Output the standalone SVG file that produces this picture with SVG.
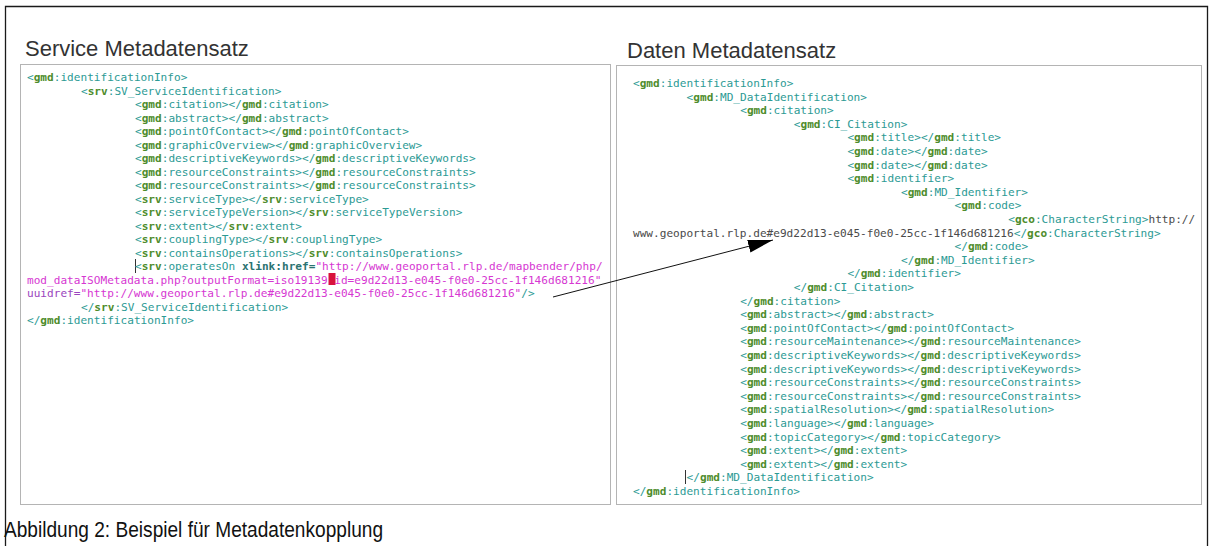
<svg xmlns="http://www.w3.org/2000/svg" width="1213" height="546" viewBox="0 0 1213 546">
<defs>
<style>
.frame{fill:none;stroke:#1a1a1a;stroke-width:1.3}
.panel{fill:#ffffff;stroke:#b4b4b4;stroke-width:1}
.title{font-family:"Liberation Sans",Arial,sans-serif;font-size:22px;fill:#333333}
.cap{font-family:"Liberation Sans",Arial,sans-serif;font-size:22.5px;fill:#111111}
.c{font-family:"DejaVu Sans Mono","Liberation Mono",monospace;font-size:11.1px;fill:#2c9a94}
.p{font-weight:bold;fill:#4e8c2c}
.a{font-weight:bold;fill:#2b7371}
.v{fill:#d637d2}
.u{fill:#9a45bd}
.t{fill:#4a4a4a}
.cur{stroke:#333333;stroke-width:1}
.conn{stroke:#111111;stroke-width:1;fill:none}
</style>
<marker id="arrow" markerUnits="userSpaceOnUse" markerWidth="26" markerHeight="14" refX="25" refY="6.5" orient="auto">
<path d="M0,0 L25,6.5 L0,13 z" fill="#000000"/>
</marker>
</defs>
<rect width="1213" height="546" fill="#ffffff"/>
<path class="frame" d="M5.5,560 V6.5 H1207.5 V560"/>

<g id="service-panel">
<text class="title" x="25" y="56">Service Metadatensatz</text>
<rect class="panel" x="20.5" y="64.5" width="590" height="440"/>
<rect x="328.5" y="273" width="7" height="12" fill="#d8123c"/>
<line class="cur" x1="135.5" y1="259" x2="135.5" y2="273"/>
<text class="c">
<tspan x="27" y="81">&lt;<tspan class="p">gmd</tspan>:identificationInfo&gt;</tspan>
<tspan x="81" y="94.5">&lt;<tspan class="p">srv</tspan>:SV_ServiceIdentification&gt;</tspan>
<tspan x="135" y="108">&lt;<tspan class="p">gmd</tspan>:citation&gt;&lt;/<tspan class="p">gmd</tspan>:citation&gt;</tspan>
<tspan x="135" y="121.5">&lt;<tspan class="p">gmd</tspan>:abstract&gt;&lt;/<tspan class="p">gmd</tspan>:abstract&gt;</tspan>
<tspan x="135" y="135">&lt;<tspan class="p">gmd</tspan>:pointOfContact&gt;&lt;/<tspan class="p">gmd</tspan>:pointOfContact&gt;</tspan>
<tspan x="135" y="148.5">&lt;<tspan class="p">gmd</tspan>:graphicOverview&gt;&lt;/<tspan class="p">gmd</tspan>:graphicOverview&gt;</tspan>
<tspan x="135" y="162">&lt;<tspan class="p">gmd</tspan>:descriptiveKeywords&gt;&lt;/<tspan class="p">gmd</tspan>:descriptiveKeywords&gt;</tspan>
<tspan x="135" y="175.5">&lt;<tspan class="p">gmd</tspan>:resourceConstraints&gt;&lt;/<tspan class="p">gmd</tspan>:resourceConstraints&gt;</tspan>
<tspan x="135" y="189">&lt;<tspan class="p">gmd</tspan>:resourceConstraints&gt;&lt;/<tspan class="p">gmd</tspan>:resourceConstraints&gt;</tspan>
<tspan x="135" y="202.5">&lt;<tspan class="p">srv</tspan>:serviceType&gt;&lt;/<tspan class="p">srv</tspan>:serviceType&gt;</tspan>
<tspan x="135" y="216">&lt;<tspan class="p">srv</tspan>:serviceTypeVersion&gt;&lt;/<tspan class="p">srv</tspan>:serviceTypeVersion&gt;</tspan>
<tspan x="135" y="229.5">&lt;<tspan class="p">srv</tspan>:extent&gt;&lt;/<tspan class="p">srv</tspan>:extent&gt;</tspan>
<tspan x="135" y="243">&lt;<tspan class="p">srv</tspan>:couplingType&gt;&lt;/<tspan class="p">srv</tspan>:couplingType&gt;</tspan>
<tspan x="135" y="256.5">&lt;<tspan class="p">srv</tspan>:containsOperations&gt;&lt;/<tspan class="p">srv</tspan>:containsOperations&gt;</tspan>
<tspan x="135" y="270">&lt;<tspan class="p">srv</tspan>:operatesOn<tspan class="a">&#160;xlink:href=</tspan><tspan class="v">"http://www.geoportal.rlp.de/mapbender/php/</tspan></tspan>
<tspan x="27" y="283.5" class="v">mod_dataISOMetadata.php?outputFormat=iso19139&#160;id=e9d22d13-e045-f0e0-25cc-1f146d681216"</tspan>
<tspan x="27" y="297"><tspan class="u">uuidref=</tspan><tspan class="v">"http://www.geoportal.rlp.de#e9d22d13-e045-f0e0-25cc-1f146d681216"</tspan>/&gt;</tspan>
<tspan x="81" y="310.5">&lt;/<tspan class="p">srv</tspan>:SV_ServiceIdentification&gt;</tspan>
<tspan x="27" y="324">&lt;/<tspan class="p">gmd</tspan>:identificationInfo&gt;</tspan>
</text>
</g>

<g id="data-panel">
<text class="title" x="627" y="58">Daten Metadatensatz</text>
<rect class="panel" x="616.5" y="65.5" width="585" height="439"/>
<line class="cur" x1="685.5" y1="470" x2="685.5" y2="484"/>
<text class="c">
<tspan x="633" y="87">&lt;<tspan class="p">gmd</tspan>:identificationInfo&gt;</tspan>
<tspan x="686.6" y="100.6">&lt;<tspan class="p">gmd</tspan>:MD_DataIdentification&gt;</tspan>
<tspan x="740.2" y="114.2">&lt;<tspan class="p">gmd</tspan>:citation&gt;</tspan>
<tspan x="793.8" y="127.8">&lt;<tspan class="p">gmd</tspan>:CI_Citation&gt;</tspan>
<tspan x="847.4" y="141.4">&lt;<tspan class="p">gmd</tspan>:title&gt;&lt;/<tspan class="p">gmd</tspan>:title&gt;</tspan>
<tspan x="847.4" y="155">&lt;<tspan class="p">gmd</tspan>:date&gt;&lt;/<tspan class="p">gmd</tspan>:date&gt;</tspan>
<tspan x="847.4" y="168.6">&lt;<tspan class="p">gmd</tspan>:date&gt;&lt;/<tspan class="p">gmd</tspan>:date&gt;</tspan>
<tspan x="847.4" y="182.2">&lt;<tspan class="p">gmd</tspan>:identifier&gt;</tspan>
<tspan x="901" y="195.8">&lt;<tspan class="p">gmd</tspan>:MD_Identifier&gt;</tspan>
<tspan x="954.6" y="209.4">&lt;<tspan class="p">gmd</tspan>:code&gt;</tspan>
<tspan x="1008.2" y="223">&lt;<tspan class="p">gco</tspan>:CharacterString&gt;<tspan class="t">http://</tspan></tspan>
<tspan x="633" y="236.6"><tspan class="t">www.geoportal.rlp.de#e9d22d13-e045-f0e0-25cc-1f146d681216</tspan>&lt;/<tspan class="p">gco</tspan>:CharacterString&gt;</tspan>
<tspan x="954.6" y="250.2">&lt;/<tspan class="p">gmd</tspan>:code&gt;</tspan>
<tspan x="901" y="263.8">&lt;/<tspan class="p">gmd</tspan>:MD_Identifier&gt;</tspan>
<tspan x="847.4" y="277.4">&lt;/<tspan class="p">gmd</tspan>:identifier&gt;</tspan>
<tspan x="793.8" y="291">&lt;/<tspan class="p">gmd</tspan>:CI_Citation&gt;</tspan>
<tspan x="740.2" y="304.6">&lt;/<tspan class="p">gmd</tspan>:citation&gt;</tspan>
<tspan x="740.2" y="318.2">&lt;<tspan class="p">gmd</tspan>:abstract&gt;&lt;/<tspan class="p">gmd</tspan>:abstract&gt;</tspan>
<tspan x="740.2" y="331.8">&lt;<tspan class="p">gmd</tspan>:pointOfContact&gt;&lt;/<tspan class="p">gmd</tspan>:pointOfContact&gt;</tspan>
<tspan x="740.2" y="345.4">&lt;<tspan class="p">gmd</tspan>:resourceMaintenance&gt;&lt;/<tspan class="p">gmd</tspan>:resourceMaintenance&gt;</tspan>
<tspan x="740.2" y="359">&lt;<tspan class="p">gmd</tspan>:descriptiveKeywords&gt;&lt;/<tspan class="p">gmd</tspan>:descriptiveKeywords&gt;</tspan>
<tspan x="740.2" y="372.6">&lt;<tspan class="p">gmd</tspan>:descriptiveKeywords&gt;&lt;/<tspan class="p">gmd</tspan>:descriptiveKeywords&gt;</tspan>
<tspan x="740.2" y="386.2">&lt;<tspan class="p">gmd</tspan>:resourceConstraints&gt;&lt;/<tspan class="p">gmd</tspan>:resourceConstraints&gt;</tspan>
<tspan x="740.2" y="399.8">&lt;<tspan class="p">gmd</tspan>:resourceConstraints&gt;&lt;/<tspan class="p">gmd</tspan>:resourceConstraints&gt;</tspan>
<tspan x="740.2" y="413.4">&lt;<tspan class="p">gmd</tspan>:spatialResolution&gt;&lt;/<tspan class="p">gmd</tspan>:spatialResolution&gt;</tspan>
<tspan x="740.2" y="427">&lt;<tspan class="p">gmd</tspan>:language&gt;&lt;/<tspan class="p">gmd</tspan>:language&gt;</tspan>
<tspan x="740.2" y="440.6">&lt;<tspan class="p">gmd</tspan>:topicCategory&gt;&lt;/<tspan class="p">gmd</tspan>:topicCategory&gt;</tspan>
<tspan x="740.2" y="454.2">&lt;<tspan class="p">gmd</tspan>:extent&gt;&lt;/<tspan class="p">gmd</tspan>:extent&gt;</tspan>
<tspan x="740.2" y="467.8">&lt;<tspan class="p">gmd</tspan>:extent&gt;&lt;/<tspan class="p">gmd</tspan>:extent&gt;</tspan>
<tspan x="686.6" y="481.4">&lt;/<tspan class="p">gmd</tspan>:MD_DataIdentification&gt;</tspan>
<tspan x="633" y="495">&lt;/<tspan class="p">gmd</tspan>:identificationInfo&gt;</tspan>
</text>
</g>

<g id="connectors">
<line class="conn" x1="553" y1="297" x2="773" y2="240" marker-end="url(#arrow)"/>
</g>

<g id="caption">
<text class="cap" x="4" y="537" textLength="379" lengthAdjust="spacingAndGlyphs">Abbildung 2: Beispiel für Metadatenkopplung</text>
</g>
</svg>
